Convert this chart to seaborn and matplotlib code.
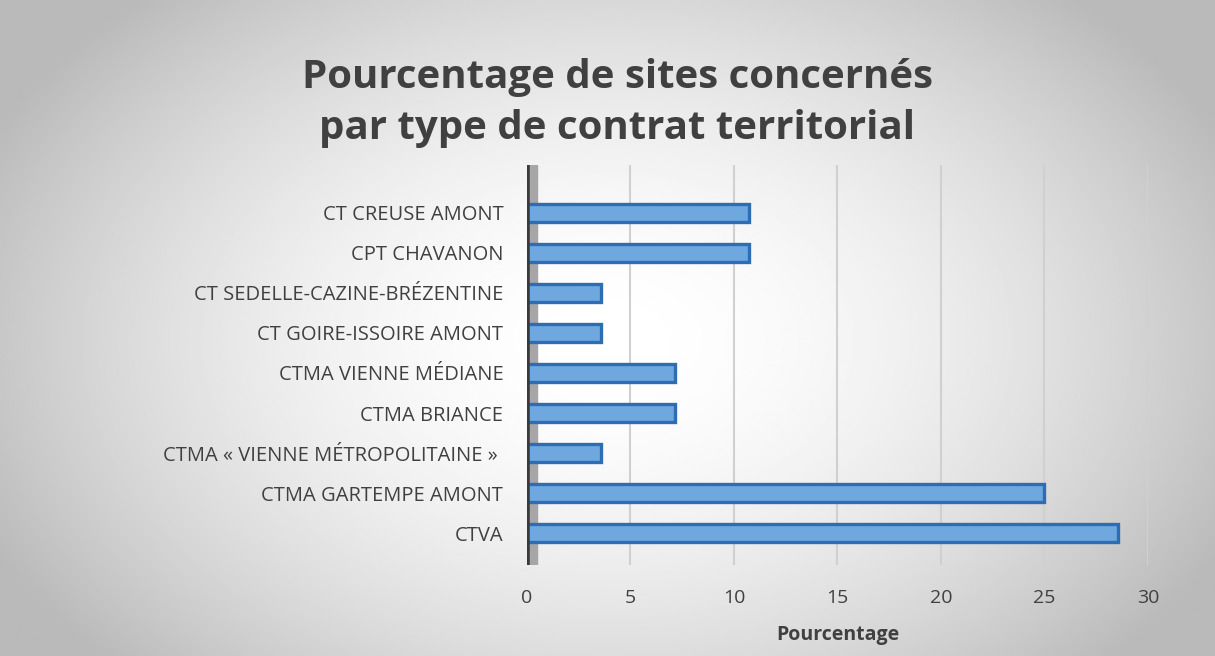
import numpy as np
import pandas as pd
import matplotlib
matplotlib.use('Agg')
import matplotlib.pyplot as plt
import seaborn as sns

# Données : pourcentage de sites par contrat territorial
contrats = [
    'CT CREUSE AMONT',
    'CPT CHAVANON',
    'CT SEDELLE-CAZINE-BRÉZENTINE',
    'CT GOIRE-ISSOIRE AMONT',
    'CTMA VIENNE MÉDIANE',
    'CTMA BRIANCE',
    'CTMA « VIENNE MÉTROPOLITAINE » ',
    'CTMA GARTEMPE AMONT',
    'CTVA',
]
pourcentages = [10.71, 10.71, 3.57, 3.57, 7.14, 7.14, 3.57, 25.0, 28.57]
graduations = [0, 5, 10, 15, 20, 25, 30]

df = pd.DataFrame({'contrat': contrats, 'pourcentage': pourcentages})

sns.set_style('white')
plt.rcParams['font.family'] = ['Open Sans', 'DejaVu Sans']
gris = '#404040'

fig = plt.figure(figsize=(12.15, 6.56), dpi=100)

# Fond en dégradé radial (blanc au centre, gris sur les bords)
bg = fig.add_axes([0, 0, 1, 1], zorder=-10)
yy, xx = np.mgrid[0:1:300j, 0:1:600j]
r = np.sqrt(((xx - 0.5) / 0.75) ** 2 + ((yy - 0.52) / 0.95) ** 2)
val = 1.0 - 0.27 * np.clip(r / 0.75, 0, 1) ** 1.8
bg.imshow(val, cmap='gray', vmin=0, vmax=1, aspect='auto', extent=[0, 1, 0, 1])
bg.set_axis_off()
fig.patch.set_edgecolor('#bfbfbf')
fig.patch.set_linewidth(2)

ax = fig.add_axes([0.4337, 0.1387, 0.5111, 0.6098])
ax.patch.set_alpha(0)

sns.barplot(data=df, x='pourcentage', y='contrat', order=contrats,
            color='#6fa8de', edgecolor='#2e6db4', linewidth=2.4,
            width=0.46, saturation=1, ax=ax, zorder=3)

ax.set_xlim(0, 30)
ax.set_ylim(8.8, -1.2)
ax.set_xticks(graduations)
ax.set_xticklabels([str(g) for g in graduations], fontsize=14, color=gris)
ax.tick_params(axis='x', length=0, pad=17)
ax.tick_params(axis='y', length=0, pad=17, labelsize=14.5, labelcolor=gris)
for g in graduations[1:]:
    ax.axvline(g, color='#d0d0d0', lw=1.5, zorder=1)

# Paroi gauche "3D"
ax.axvspan(0, 0.5, color='#a6a6a6', zorder=2)
ax.axvline(0, color='#3a3a3a', lw=4, zorder=4)

for s in ax.spines.values():
    s.set_visible(False)

ax.set_ylabel('')
ax.set_xlabel('Pourcentage', fontsize=14, fontweight='bold', color=gris, labelpad=13)

fig.text(0.508, 0.775, 'Pourcentage de sites concernés\npar type de contrat territorial',
         ha='center', va='bottom', fontsize=29, fontweight='bold', color=gris,
         linespacing=1.4)

plt.savefig('out.png', dpi=100)
